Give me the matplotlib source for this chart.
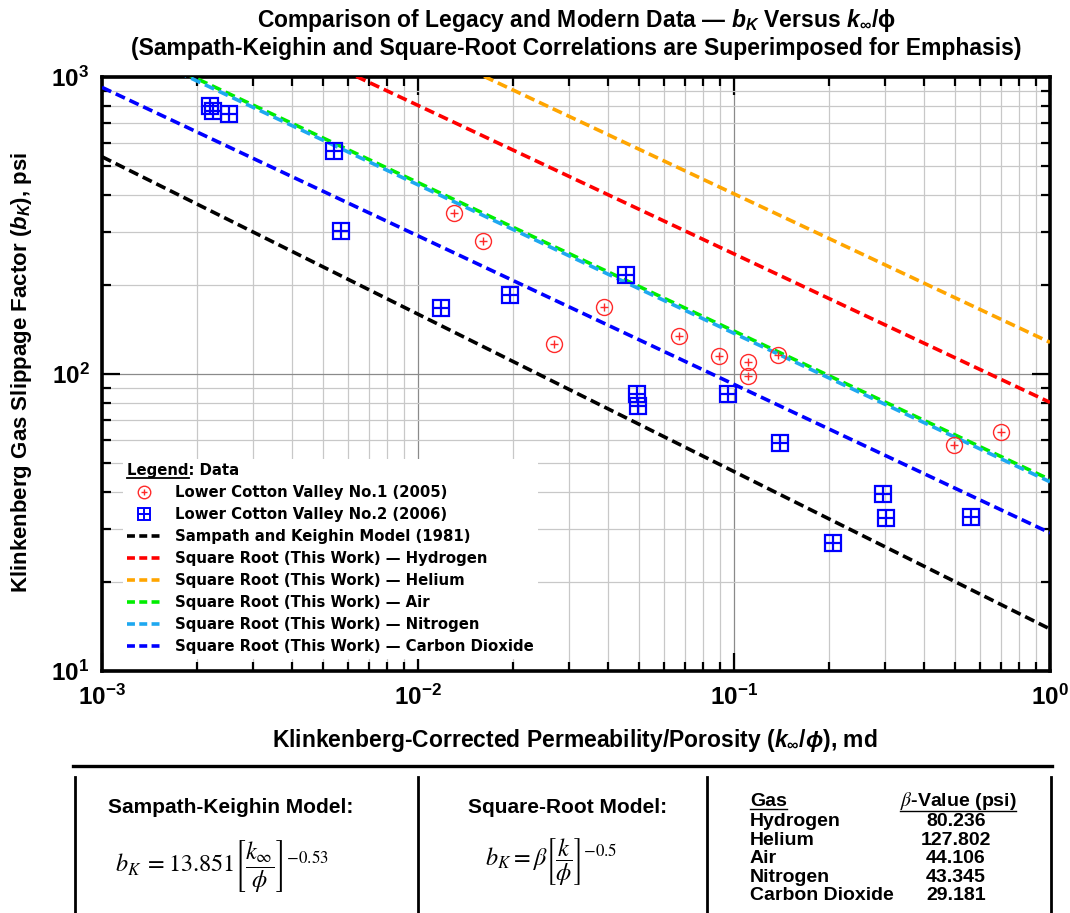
import numpy as np
import matplotlib
matplotlib.use("Agg")
import matplotlib.pyplot as plt
from matplotlib.lines import Line2D
from matplotlib.ticker import NullFormatter
from matplotlib.legend_handler import HandlerTuple
from matplotlib.font_manager import FontProperties, fontManager

# ---------------------------------------------------------------- data
# Lower Cotton Valley No.1 (2005): k_inf/phi (md) and b_K (psi)
lcv1_kphi = [0.0130, 0.0161, 0.0269, 0.0388, 0.0670, 0.0898, 0.111, 0.111,
             0.138, 0.497, 0.700]
lcv1_bk = [348, 280, 126, 168, 134, 115, 110, 98.5, 116, 57.7, 63.8]

# Lower Cotton Valley No.2 (2006)
lcv2_kphi = [0.00220, 0.00224, 0.00252, 0.00542, 0.00570, 0.0118, 0.0195,
             0.0455, 0.0493, 0.0497, 0.0957, 0.140, 0.206, 0.297, 0.302, 0.562]
lcv2_bk = [799, 768, 750, 563, 303, 167, 185, 215, 85.6, 78.0, 85.6, 58.6,
           27.0, 39.5, 32.7, 33.0]

# Sampath and Keighin (1981): b_K = 13.851 (k/phi)^-0.53
sk_coef = 13.851
sk_exp = -0.53

# Square-root model: b_K = beta (k/phi)^-0.5
sqrt_exp = -0.5
gases = ["Hydrogen", "Helium", "Air", "Nitrogen", "Carbon Dioxide"]
beta_values = [80.236, 127.802, 44.106, 43.345, 29.181]
gas_colors = ["#ff0000", "#ffa500", "#00ee00", "#1ea8f0", "#0000ff"]

# ---------------------------------------------------------------- fonts
names = {f.name for f in fontManager.ttflist}
HAS_NARROW = "Liberation Sans Narrow" in names
NARROW = "Liberation Sans Narrow" if HAS_NARROW else "Liberation Sans"
TICK_SIZE = 20 if HAS_NARROW else 17.5
SANS = ["Liberation Sans", "DejaVu Sans"]

plt.rcParams["font.family"] = [NARROW, "DejaVu Sans"]
plt.rcParams["mathtext.fontset"] = "custom"
plt.rcParams["mathtext.rm"] = "Liberation Sans:bold"
plt.rcParams["mathtext.it"] = "Liberation Sans:italic:bold"
plt.rcParams["mathtext.bf"] = "Liberation Sans:bold"

W, H = 1070, 913
fig = plt.figure(figsize=(W / 100, H / 100), dpi=100)


def fx(px):
    return px / W


def fy(py):
    return 1 - py / H


ax = fig.add_axes([fx(102), fy(671), 948 / W, 594 / H])
ax.set_xscale("log")
ax.set_yscale("log")
ax.set_xlim(1e-3, 1)
ax.set_ylim(10, 1000)

# ---------------------------------------------------------------- model lines
x = np.logspace(-3, 0, 400)
LW = 2.6
dash = (2.8, 1.4)
sk_line, = ax.plot(x, sk_coef * x ** sk_exp, color="k", lw=LW,
                   ls=(0, dash), zorder=3)
for gas, beta, col in zip(gases, beta_values, gas_colors):
    off = 2.1 if gas == "Nitrogen" else 0
    ax.plot(x, beta * x ** sqrt_exp, color=col, lw=LW, ls=(off, dash), zorder=3)

# ---------------------------------------------------------------- data markers
RED = "#ff2a2a"
BLUE = "#0000ff"
ax.plot(lcv1_kphi, lcv1_bk, ls="none", marker="o", ms=11.5, mfc="none",
        mec=RED, mew=1.0, zorder=4)
ax.plot(lcv1_kphi, lcv1_bk, ls="none", marker="+", ms=6, mec=RED,
        mew=1.0, zorder=4)
ax.plot(lcv2_kphi, lcv2_bk, ls="none", marker="s", ms=11.5, mfc="none",
        mec=BLUE, mew=1.6, zorder=4)
ax.plot(lcv2_kphi, lcv2_bk, ls="none", marker="+", ms=11.5, mec=BLUE,
        mew=1.6, zorder=4)

# ---------------------------------------------------------------- axes styling
ax.grid(which="major", color="#8a8a8a", lw=0.9)
ax.grid(which="minor", color="#c8c8c8", lw=0.9)
ax.set_axisbelow(True)
ax.tick_params(which="both", direction="in", top=True, right=True,
               width=1.6, colors="k")
ax.tick_params(which="major", length=13, labelsize=TICK_SIZE)
ax.tick_params(axis="x", which="major", pad=10)
ax.tick_params(axis="y", which="major", pad=9)
ax.tick_params(which="minor", length=6.5)
ax.xaxis.set_minor_formatter(NullFormatter())
ax.yaxis.set_minor_formatter(NullFormatter())
for lab in ax.get_xticklabels() + ax.get_yticklabels():
    lab.set_fontweight("bold")
for sp in ax.spines.values():
    sp.set_linewidth(2.6)

# ---------------------------------------------------------------- titles / labels
XC = fx(576)
fig.text(XC, fy(20),
         r"Comparison of Legacy and Modern Data — $b_K$ Versus $k_\infty$/ϕ",
         ha="center", va="center", fontsize=16.5, fontweight="bold", family=SANS)
fig.text(XC, fy(48),
         "(Sampath-Keighin and Square-Root Correlations are Superimposed for Emphasis)",
         ha="center", va="center", fontsize=16.5, fontweight="bold", family=SANS)
fig.text(fx(22), fy(372), r"Klinkenberg Gas Slippage Factor ($b_K$), psi",
         rotation=90, ha="center", va="center", fontsize=16,
         fontweight="bold", family=SANS)
fig.text(fx(575), fy(740),
         r"Klinkenberg-Corrected Permeability/Porosity ($k_\infty/\phi$), md",
         ha="center", va="center", fontsize=16.5, fontweight="bold", family=SANS)

# ---------------------------------------------------------------- legend
h_lcv1 = (Line2D([], [], ls="none", marker="o", ms=9, mfc="none", mec=RED, mew=1.0),
          Line2D([], [], ls="none", marker="+", ms=5, mec=RED, mew=1.0))
h_lcv2 = (Line2D([], [], ls="none", marker="s", ms=9, mfc="none", mec=BLUE, mew=1.4),
          Line2D([], [], ls="none", marker="+", ms=9, mec=BLUE, mew=1.4))
leg_lines = [Line2D([], [], color=c, lw=LW, ls=(0, (2.2, 1.2)))
             for c in ["k"] + gas_colors]
handles = [h_lcv1, h_lcv2] + leg_lines
labels = ["Lower Cotton Valley No.1 (2005)", "Lower Cotton Valley No.2 (2006)",
          "Sampath and Keighin Model (1981)"] + \
         [f"Square Root (This Work) — {g}" for g in gases]
legfont = FontProperties(family="DejaVu Sans", weight="bold", size=10.7)
leg = ax.legend(handles, labels, loc="upper left",
                bbox_to_anchor=(fx(123), fy(459)), bbox_transform=fig.transFigure,
                handler_map={tuple: HandlerTuple(ndivide=1)},
                prop=legfont, title="Legend: Data", title_fontproperties=legfont,
                alignment="left", frameon=True, facecolor="white",
                edgecolor="none", framealpha=1, fancybox=False,
                handlelength=2.2, handletextpad=1.0, labelspacing=0.47,
                borderpad=0.3, borderaxespad=0)
leg.set_zorder(5)

# ---------------------------------------------------------------- model panel
fig.add_artist(Line2D([fx(73), fx(1052)], [fy(766), fy(766)], color="k", lw=2.4))
for vx in (75, 418, 707, 1051):
    fig.add_artist(Line2D([fx(vx), fx(vx)], [fy(777), fy(913)], color="k", lw=2.0))

fig.text(fx(231), fy(807), "Sampath-Keighin Model:", ha="center", va="center",
         fontsize=15, fontweight="bold", family=SANS)
fig.text(fx(222), fy(866),
         r"$b_K\;=13.851\left[\dfrac{k_\infty}{\phi}\right]^{-0.53}$",
         ha="center", va="center", fontsize=17.5, math_fontfamily="stix")
fig.text(fx(568), fy(807), "Square-Root Model:", ha="center", va="center",
         fontsize=15, fontweight="bold", family=SANS)
fig.text(fx(551), fy(862),
         r"$b_K=\beta\left[\dfrac{k}{\phi}\right]^{-0.5}$",
         ha="center", va="center", fontsize=17.5, math_fontfamily="stix")

tbl_font = dict(fontsize=14, fontweight="bold", family=SANS)
t_gas = fig.text(fx(750), fy(806), "Gas", ha="left", va="baseline", **tbl_font)
t_beta = fig.text(fx(958), fy(806), r"$\beta$-Value (psi)", ha="center",
                  va="baseline", math_fontfamily="stix", **tbl_font)
for i, (gas, beta) in enumerate(zip(gases, beta_values)):
    yb = 826 + 18.5 * i
    fig.text(fx(750), fy(yb), gas, ha="left", va="baseline", **tbl_font)
    fig.text(fx(956), fy(yb), f"{beta:.3f}", ha="center", va="baseline", **tbl_font)

# ---------------------------------------------------------------- underlines
fig.canvas.draw()
renderer = fig.canvas.get_renderer()
for lab in ax.get_xticklabels() + ax.get_yticklabels():
    lab.set_fontweight("bold")


def underline(x0, x1, y, lw=1.3):
    fig.add_artist(Line2D([x0 / W, x1 / W], [y / H, y / H], color="k", lw=lw))


title = leg.get_title()
tb = title.get_window_extent(renderer)
probe = fig.text(0, 0, "Legend", fontproperties=title.get_fontproperties())
pw = probe.get_window_extent(renderer).width
probe.remove()
underline(tb.x0, tb.x0 + pw, tb.y0 + 0.5)

for t in (t_gas, t_beta):
    bb = t.get_window_extent(renderer)
    underline(bb.x0, bb.x1, bb.y0 + 1.0, lw=1.0)

fig.savefig("out.png", dpi=100)
